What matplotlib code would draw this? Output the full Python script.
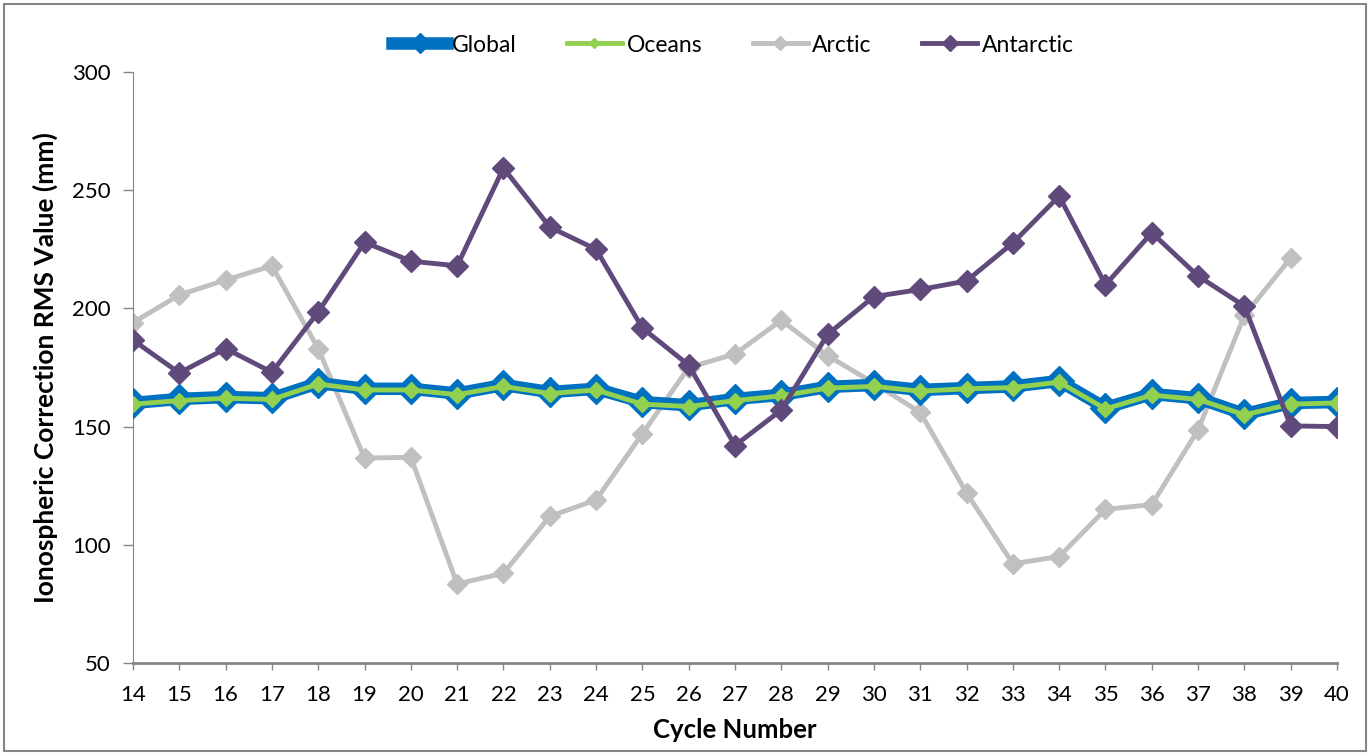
import matplotlib
matplotlib.use("Agg")
import matplotlib.pyplot as plt
import numpy as np
from matplotlib.patches import Rectangle

plt.rcParams['font.family'] = ['Lato', 'DejaVu Sans']

cycles = list(range(14, 41))
global_rms = [160, 161.7, 162.5, 162, 168.4, 166, 166, 164, 167.6, 164.6, 166, 160.4, 159,
              161.7, 163.4, 166.8, 167.6, 165.5, 166.3, 167, 169.3, 157.9, 163.8, 162, 155.3, 160, 160.4]
oceans_rms = [159.5, 161, 162, 161.5, 168, 165.5, 165.5, 163.5, 167, 164, 165.5, 159.5, 158.5,
              161, 163, 166.3, 167, 165, 166, 166.5, 168.8, 157.5, 163.3, 161.5, 155, 159.5, 160]
arctic_rms = [194, 205.7, 212, 218, 183, 136.7, 137, 83.4, 88, 112, 119, 147, 175,
              180.7, 195, 180, 168.4, 156, 122, 92, 95, 115, 117, 148.6, 197, 221.3, np.nan]
antarctic_rms = [186.6, 172.7, 183, 173, 198.5, 228, 220, 218, 259.4, 234.4, 225, 191.7, 176,
                 142, 157, 189, 205, 208, 211.6, 227.7, 247.5, 210, 232, 213.7, 201, 150.3, 150]
yticks = [50, 100, 150, 200, 250, 300]

fig = plt.figure(figsize=(13.7, 7.55), dpi=100)
ax = fig.add_axes([133/1370, 1-663/755, (1337-133)/1370, (663-72)/755])

ax.plot(cycles, global_rms, color='#0070C0', lw=9, marker='D', ms=15,
        markeredgecolor='#0070C0', label='Global', zorder=3, solid_joinstyle='round')
ax.plot(cycles, oceans_rms, color='#92D050', lw=3.5, marker='D', ms=8,
        markeredgecolor='#92D050', label='Oceans', zorder=4)
ax.plot(cycles, arctic_rms, color='#C0C0C0', lw=3.5, marker='D', ms=10.5,
        markeredgecolor='#C0C0C0', label='Arctic', zorder=2)
ax.plot(cycles, antarctic_rms, color='#604A7B', lw=3.5, marker='D', ms=11,
        markeredgecolor='#604A7B', label='Antarctic', zorder=5)

ax.set_xlim(14, 40)
ax.set_ylim(50, 300)
ax.set_xticks(cycles)
ax.set_yticks(yticks)
ax.tick_params(axis='x', direction='out', length=5, width=1, color='#868686',
               pad=11, labelsize=16)
ax.tick_params(axis='y', direction='out', length=7, width=1, color='#868686',
               pad=9, labelsize=16)
for s in ['top', 'right']:
    ax.spines[s].set_visible(False)
ax.spines['left'].set_color('#868686')
ax.spines['bottom'].set_color('#868686')
ax.spines['bottom'].set_linewidth(2)

ax.set_ylabel('Ionospheric Correction RMS Value (mm)', fontsize=19, fontweight='bold', labelpad=10)
ax.set_xlabel('Cycle Number', fontsize=18.5, fontweight='bold', labelpad=9)

leg = fig.legend(loc='center', bbox_to_anchor=(0.535, 1-45/755), ncol=4, frameon=False,
                 fontsize=16.5, handlelength=2.4, columnspacing=2.2, handletextpad=0.2,
                 markerscale=0.7)

fig.patches.append(Rectangle((4/1370, 4/755), 1362/1370, 747/755, transform=fig.transFigure,
                             fill=False, edgecolor='#868686', lw=1.5))

fig.savefig('out.png', dpi=100)
